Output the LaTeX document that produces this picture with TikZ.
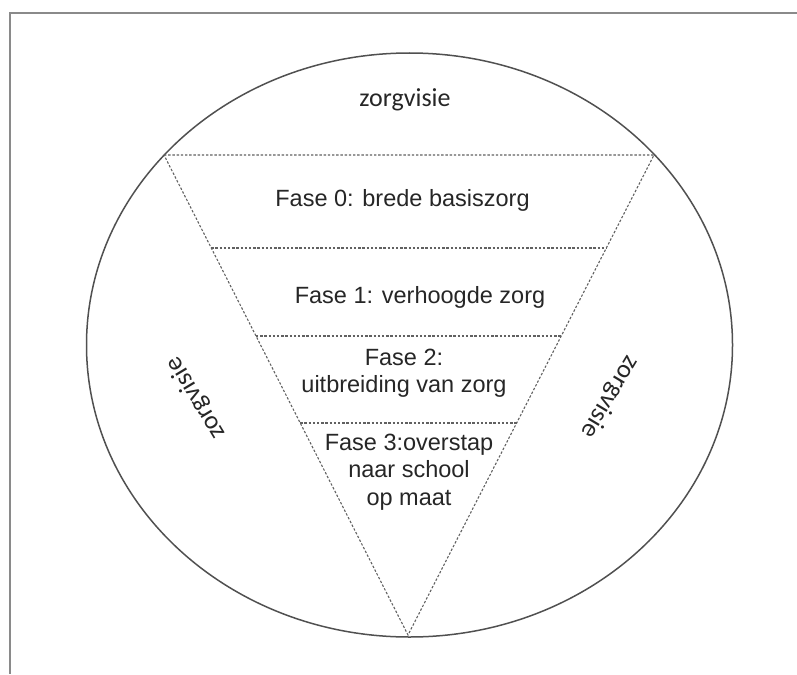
\documentclass[tikz,border=0pt]{standalone}
\usepackage{fontspec}
\setmainfont{Liberation Sans}
\newfontfamily\calib{Carlito}
\usetikzlibrary{calc}
\definecolor{txt}{HTML}{262626}
\definecolor{lin}{HTML}{505050}
\definecolor{frm}{HTML}{8A8A8A}
\begin{document}
\begin{tikzpicture}[x=1pt,y=-1pt,
  frame/.style={draw=frm,line width=2pt},
  outline/.style={draw=lin,line width=1.5pt},
  dotline/.style={draw=lin!90,line width=1.1pt,dash pattern=on 2.4pt off 1.8pt},
  fase/.style={text=txt,font=\fontsize{23.5}{27.5}\selectfont,align=center,inner sep=0pt},
  visie/.style={text=txt,font=\calib\fontsize{26}{30}\selectfont,inner sep=0pt}]
\useasboundingbox (0,0) rectangle (797,674);
\draw[frame] (797,13) -- (10,13) -- (10,674);
\draw[outline] (409.5,345) ellipse [x radius=323pt, y radius=292pt];
\coordinate (TL) at (164,155);
\coordinate (TR) at (654,155);
\coordinate (A) at (408,635);
\draw[dotline] (TL) -- (TR) -- (A) -- cycle;
\coordinate (L1) at ($(TL)!0.19375!(A)$);
\coordinate (R1) at ($(TR)!0.19375!(A)$);
\coordinate (L2) at ($(TL)!0.377!(A)$);
\coordinate (R2) at ($(TR)!0.377!(A)$);
\coordinate (L3) at ($(TL)!0.5583!(A)$);
\coordinate (R3) at ($(TR)!0.5583!(A)$);
\draw[dotline] (L1) -- (R1);
\draw[dotline] (L2) -- (R2);
\draw[dotline] (L3) -- (R3);
\node[visie] (top) at (405,100) {zorgvisie};
\node[visie,rotate=121] (left) at (196,398) {zorgvisie};
\node[visie,rotate=239] (right) at (610,397) {zorgvisie};
\node[fase] (f0) at (402.5,200) {Fase 0: brede basiszorg};
\node[fase] (f1) at (420,297) {Fase 1: verhoogde zorg};
\node[fase] (f2) at (404,373) {Fase 2:\\uitbreiding van zorg};
\node[fase] (f3) at (409,472) {Fase 3:overstap\\naar school\\op maat};
\end{tikzpicture}
\end{document}
